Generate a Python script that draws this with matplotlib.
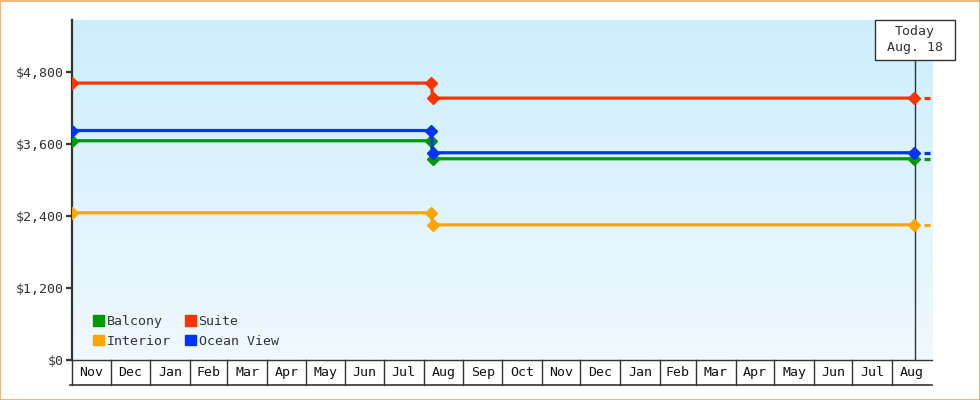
import matplotlib
matplotlib.use("Agg")
import matplotlib.pyplot as plt
import matplotlib.dates as mdates
import matplotlib.patches as mpatches
import matplotlib.transforms as mtransforms
import numpy as np
import pandas as pd

# price history (one point per price change)
price_dates = ["2023-11-01", "2024-08-07", "2024-08-08", "2025-08-18"]
balcony = [3650, 3650, 3350, 3350]
suite = [4610, 4610, 4360, 4360]
interior = [2450, 2450, 2250, 2250]
ocean_view = [3820, 3820, 3450, 3450]

series_names = ["Balcony", "Interior", "Suite", "Ocean View"]
series_values = [balcony, interior, suite, ocean_view]
series_colors = ["#009900", "#ffa500", "#ff3300", "#0033ff"]

y_ticks = [0, 1200, 2400, 3600, 4800]
today = "2025-08-18 18:00"
today_label = "Today\nAug. 18"
axis_start = "2023-11-01"
axis_end = "2025-09-01"

FONT = "DejaVu Sans Mono"
TXT = "#333333"
plt.rcParams["font.family"] = FONT
plt.rcParams["lines.scale_dashes"] = False

fig = plt.figure(figsize=(9.8, 4.0), dpi=100)
W, H = 980, 400
x0, x1, ytop, ybot = 72, 932, 20, 360
ax_w, ax_h = x1 - x0, ybot - ytop
ax = fig.add_axes([x0 / W, (H - ybot) / H, ax_w / W, ax_h / H])

xs = mdates.date2num(pd.to_datetime(price_dates))
t_now = mdates.date2num(pd.Timestamp(today))
t0 = mdates.date2num(pd.Timestamp(axis_start))
t1 = mdates.date2num(pd.Timestamp(axis_end))
ax.set_xlim(t0, t1)
ax.set_ylim(0, 5660)

# background gradient
grad = np.linspace(0, 1, 256).reshape(-1, 1)
top_c = np.array([204, 238, 252]) / 255
bot_c = np.array([240, 249, 254]) / 255
img = top_c * (1 - grad[..., None]) + bot_c * grad[..., None]
img = np.repeat(img, 2, axis=1)
ax.imshow(img, extent=[0, 1, 0, 1], transform=ax.transAxes, aspect="auto", zorder=0)

bt = mtransforms.blended_transform_factory(ax.transData, ax.transAxes)

# today marker line + label box
box_h = 40 / ax_h
box_w = 80 / ax_w
now_ax = (t_now - t0) / (t1 - t0)
ax.axvline(t_now, ymin=0, ymax=1 - box_h, color=TXT, lw=1, zorder=2)
ax.add_patch(mpatches.Rectangle((now_ax - box_w / 2, 1 - box_h), box_w, box_h,
                                transform=ax.transAxes, fc="white", ec=TXT,
                                lw=1, clip_on=False, zorder=6))
ax.text(t_now, 1 - box_h / 2, today_label, transform=bt,
        ha="center", va="center", fontsize=9.5, color=TXT, linespacing=1.3,
        clip_on=False, zorder=7)

for name, vals, col in zip(series_names, series_values, series_colors):
    ax.plot(xs, vals, color=col, lw=2.3, marker="D", ms=6.5, zorder=4,
            solid_joinstyle="miter")
    ax.plot([t_now, t1], [vals[-1], vals[-1]], color=col, lw=2.3, zorder=3,
            linestyle=(4.3, (4.3, 6.5)))

# y axis
for s in ["top", "right", "bottom"]:
    ax.spines[s].set_visible(False)
ax.spines["left"].set_color(TXT)
ax.spines["left"].set_linewidth(1.6)
ax.set_yticks(y_ticks)
ax.set_yticklabels(["${:,}".format(v) for v in y_ticks])
ax.tick_params(axis="y", length=4, width=1.6, color=TXT, labelcolor=TXT,
               labelsize=9.5, pad=2)
ax.set_xticks([])

# month cells under the axis
months = pd.date_range(axis_start, axis_end, freq="MS")
mnum = mdates.date2num(months)
cell_h = 25 / ax_h
ax.plot([t0, t1], [0, 0], transform=bt, color=TXT, lw=1, clip_on=False)
ax.plot([t0 - 1.5, t1], [-cell_h, -cell_h], transform=bt, color=TXT, lw=1.2,
        clip_on=False)
for i in range(len(months) - 1):
    ax.plot([mnum[i], mnum[i]], [0, -cell_h], transform=bt, color=TXT, lw=1,
            clip_on=False)
    ax.text((mnum[i] + mnum[i + 1]) / 2, -cell_h / 2, months[i].strftime("%b"),
            transform=bt, ha="center", va="center", fontsize=9.5, color="#111111",
            clip_on=False)

# legend
handles = [mpatches.Patch(color=c, label=n) for n, c in zip(series_names, series_colors)]
ax.legend(handles=handles, ncol=2, loc="lower left", bbox_to_anchor=(0.011, 0.001),
          frameon=False, fontsize=9.5, handlelength=0.83, handleheight=0.83,
          handletextpad=0.2, columnspacing=1.06, labelspacing=0.5,
          labelcolor=TXT)

# outer border
fig.patches.append(mpatches.Rectangle((0.0005, 0.001), 0.999, 0.997,
                                      transform=fig.transFigure, fill=False,
                                      ec="#e8aa66", lw=1.2))

fig.savefig("out.png", dpi=100)
